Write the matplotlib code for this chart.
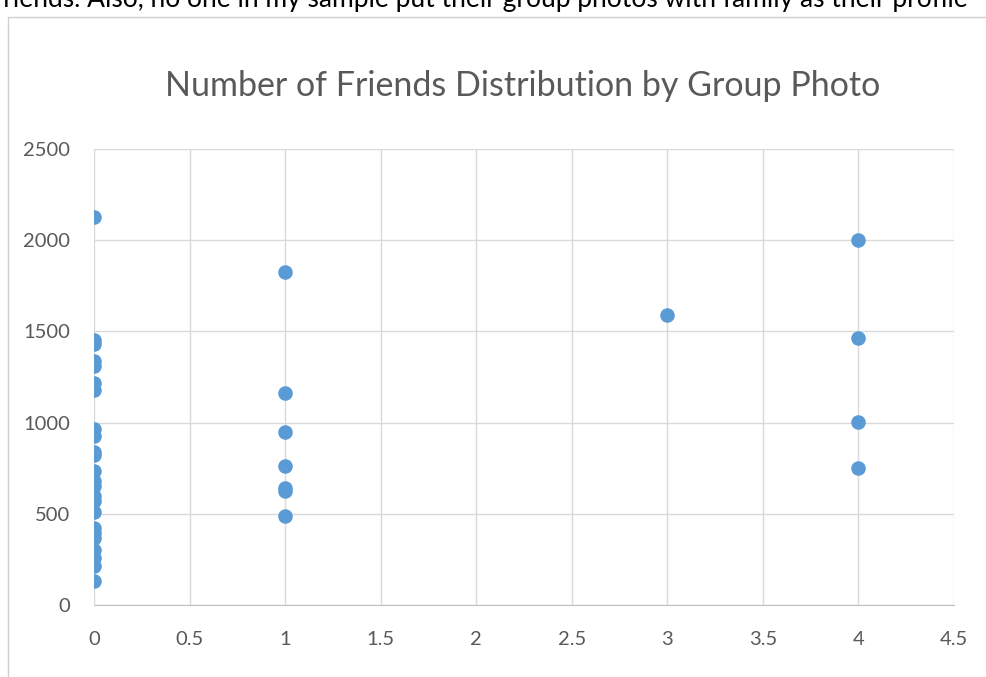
import matplotlib.pyplot as plt
from matplotlib.patches import Rectangle

# group photo count vs number of friends
group_photos = [0] * 24 + [1] * 7 + [3] + [4] * 4
friends = [2127, 1455, 1433, 1335, 1310, 1215, 1180, 965, 925, 840, 820, 735,
           680, 650, 600, 570, 510, 420, 395, 370, 300, 260, 215, 130,
           1825, 1160, 950, 760, 640, 625, 490,
           1590,
           2000, 1465, 1005, 750]

x_ticks = [0, 0.5, 1, 1.5, 2, 2.5, 3, 3.5, 4, 4.5]
x_tick_labels = ['0', '0.5', '1', '1.5', '2', '2.5', '3', '3.5', '4', '4.5']
y_ticks = [0, 500, 1000, 1500, 2000, 2500]

plt.rcParams['font.family'] = ['Lato', 'DejaVu Sans']

fig = plt.figure(figsize=(9.86, 6.77), dpi=100)

# clipped line of document text above the chart
fig.text(-0.006, 1.0 - 7 / 677, 'friends. Also, no one in my sample put their group photos with family as their profile',
         fontsize=19, color='black', va='baseline', ha='left')

# chart border
fig.patches.append(Rectangle((8 / 986, -0.1), 1.2, (660 / 677) + 0.1, transform=fig.transFigure,
                             fill=False, edgecolor='#d0d0d0', linewidth=1))

ax = fig.add_axes([94 / 986, 72 / 677, 860 / 986, 456 / 677])
ax.scatter(group_photos, friends, s=110, color='#5B9BD5', zorder=3, linewidths=0)

ax.set_xlim(0, 4.5)
ax.set_ylim(0, 2500)
ax.set_xticks(x_ticks)
ax.set_xticklabels(x_tick_labels)
ax.set_yticks(y_ticks)
ax.grid(True, color='#d9d9d9', linewidth=1)
ax.set_axisbelow(True)
for side in ['top', 'right', 'left']:
    ax.spines[side].set_visible(False)
ax.spines['bottom'].set_color('#bfbfbf')
ax.tick_params(axis='both', length=0, labelsize=14.5, colors='#595959')
ax.tick_params(axis='x', pad=19)
ax.tick_params(axis='y', pad=17)

fig.text(523 / 986, 1 - 86 / 677, 'Number of Friends Distribution by Group Photo',
         fontsize=24.5, color='#595959', ha='center', va='center')

plt.savefig('out.png', dpi=100)
